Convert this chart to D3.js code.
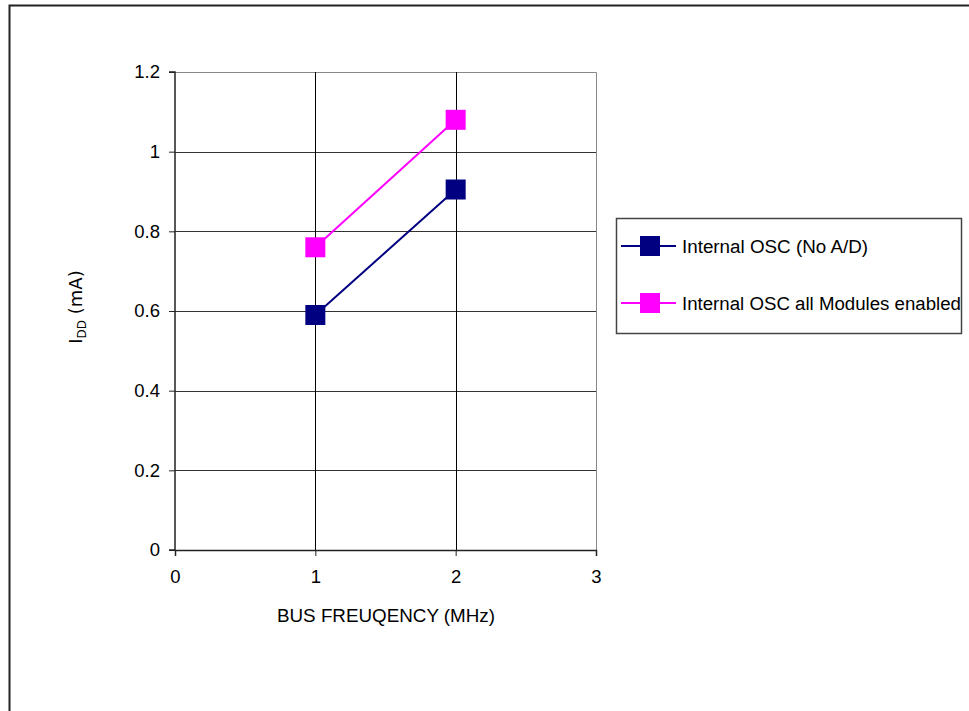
<!DOCTYPE html>
<html>
<head>
<meta charset="utf-8">
<script src="https://cdn.jsdelivr.net/npm/d3@7"></script>
<style>
  body { margin: 0; background: #fff; }
  text { font-family: "Liberation Sans", Arial, sans-serif; fill: #000; }
</style>
</head>
<body>
<div id="chart"></div>
<script>
// data
var freqs = [1, 2];
var seriesNames = ["Internal OSC (No A/D)", "Internal OSC all Modules enabled"];
var seriesColors = ["#000080", "#ff00ff"];
var noAD = [0.59, 0.905];
var allModules = [0.76, 1.08];
var xTicks = [0, 1, 2, 3];
var yTicks = [0, 0.2, 0.4, 0.6, 0.8, 1, 1.2];

var series = [noAD, allModules];

var W = 969, H = 711;
var margin = {top: 72, left: 175},
    width = 421,
    height = 478;

var svg = d3.select("#chart").append("svg")
    .attr("width", W)
    .attr("height", H);

// outer frame (right/bottom run off the page)
svg.append("rect")
    .attr("x", 9.5).attr("y", 5.5)
    .attr("width", 1000).attr("height", 800)
    .attr("fill", "none")
    .attr("stroke", "#222")
    .attr("stroke-width", 2);

var g = svg.append("g")
    .attr("transform", "translate(" + margin.left + "," + margin.top + ")");

var x = d3.scaleLinear().domain([0, 3]).range([0, width]);
var y = d3.scaleLinear().domain([0, 1.2]).range([height, 0]);

// plot frame top/right in gray
g.append("path")
    .attr("d", "M0,0.5H" + (width + 0.5) + "V" + height)
    .attr("fill", "none")
    .attr("stroke", "#888");

// gridlines
g.selectAll(".hgrid")
    .data(yTicks.filter(function(d) { return d > 0 && d < 1.2; }))
    .enter().append("line")
    .attr("x1", 0).attr("x2", width)
    .attr("y1", function(d) { return Math.round(y(d)) + 0.5; })
    .attr("y2", function(d) { return Math.round(y(d)) + 0.5; })
    .attr("stroke", "#333");

g.selectAll(".vgrid")
    .data(xTicks.filter(function(d) { return d > 0 && d < 3; }))
    .enter().append("line")
    .attr("y1", 0).attr("y2", height)
    .attr("x1", function(d) { return Math.round(x(d)) + 0.5; })
    .attr("x2", function(d) { return Math.round(x(d)) + 0.5; })
    .attr("stroke", "#000");

// axes
var xAxis = d3.axisBottom(x).tickValues(xTicks).tickSize(6).tickPadding(14)
    .tickFormat(d3.format("d"));
var yAxis = d3.axisLeft(y).tickValues(yTicks).tickSize(6).tickPadding(9)
    .tickFormat(function(d) { return d === 0 ? "0" : d3.format("")(+d.toFixed(1)); });

var gx = g.append("g")
    .attr("transform", "translate(0," + height + ")")
    .call(xAxis);
var gy = g.append("g").call(yAxis);

[gx, gy].forEach(function(a) {
    a.select(".domain").attr("stroke", "#222").attr("stroke-width", 1.5);
    a.selectAll(".tick line").attr("stroke", "#222");
    a.selectAll("text")
        .style("font-family", "'Liberation Sans', Arial, sans-serif")
        .style("font-size", "18.5px")
        .attr("fill", "#000");
});
gy.select(".domain").attr("d", "M-6," + height + "H0V0H-6");

// series lines and markers
var line = d3.line()
    .x(function(d, i) { return x(freqs[i]); })
    .y(function(d) { return y(d); });

series.forEach(function(s, k) {
    g.append("path")
        .datum(s)
        .attr("d", line)
        .attr("fill", "none")
        .attr("stroke", seriesColors[k])
        .attr("stroke-width", 2);

    g.selectAll(".m" + k)
        .data(s)
        .enter().append("rect")
        .attr("x", function(d, i) { return x(freqs[i]) - 10; })
        .attr("y", function(d) { return y(d) - 10; })
        .attr("width", 20).attr("height", 20)
        .attr("fill", seriesColors[k]);
});

// axis titles
svg.append("text")
    .attr("x", 386).attr("y", 622)
    .attr("text-anchor", "middle")
    .attr("textLength", 218)
    .attr("lengthAdjust", "spacingAndGlyphs")
    .style("font-size", "18px")
    .text("BUS FREUQENCY (MHz)");

var ylab = svg.append("text")
    .attr("transform", "translate(82,307) rotate(-90)")
    .attr("text-anchor", "middle")
    .style("font-family", "'DejaVu Sans', sans-serif")
    .style("font-size", "18px");
ylab.append("tspan").text("I");
ylab.append("tspan").attr("dy", 4).style("font-size", "12px").text("DD");
ylab.append("tspan").attr("dy", -4).text(" (mA)");

// legend
var legend = svg.append("g");
legend.append("rect")
    .attr("x", 616.5).attr("y", 218.5)
    .attr("width", 345).attr("height", 115)
    .attr("fill", "#fff")
    .attr("stroke", "#444")
    .attr("stroke-width", 1.5);

var legendY = [246, 303];
var legendW = [186, 279];
seriesNames.forEach(function(name, k) {
    legend.append("line")
        .attr("x1", 621).attr("x2", 676)
        .attr("y1", legendY[k]).attr("y2", legendY[k])
        .attr("stroke", seriesColors[k])
        .attr("stroke-width", 2);
    legend.append("rect")
        .attr("x", 640).attr("y", legendY[k] - 10)
        .attr("width", 20).attr("height", 20)
        .attr("fill", seriesColors[k]);
    legend.append("text")
        .attr("x", 682).attr("y", legendY[k] + 7)
        .attr("textLength", legendW[k])
        .attr("lengthAdjust", "spacingAndGlyphs")
        .style("font-size", "18px")
        .text(name);
});
</script>
</body>
</html>
